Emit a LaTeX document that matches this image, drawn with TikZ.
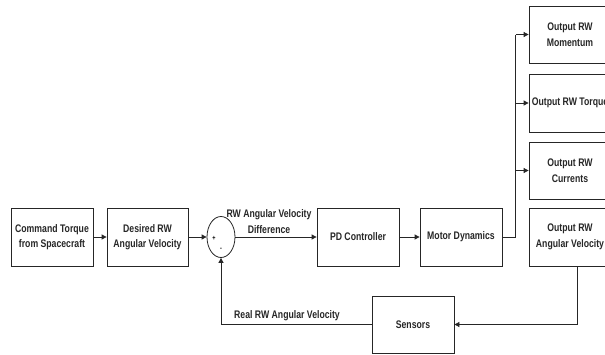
\documentclass[tikz,border=0pt]{standalone}
\usepackage{fontspec}
\setmainfont{Liberation Sans}[FakeStretch=0.79]
\usetikzlibrary{arrows.meta,shapes.geometric}
\begin{document}
\begin{tikzpicture}[x=1pt,y=-1pt,
  txt/.style={font=\fontsize{11}{15.5}\selectfont\bfseries, text=black!85},
  blk/.style={draw=black!85, line width=0.8pt, rectangle, minimum width=82pt, minimum height=58pt, inner sep=1pt, align=center, txt},
  arr/.style={draw=black!85, line width=0.8pt, -{Triangle[length=5pt,width=5pt]}},
  ln/.style={draw=black!85, line width=0.8pt}]
\useasboundingbox (0,0) rectangle (605,354);
\node[blk] (cmd) at (52,237) {Command Torque\\from Spacecraft};
\node[blk, minimum width=81pt] (des) at (147.5,237) {Desired RW\\Angular Velocity};
\node[draw=black!85, line width=0.8pt, ellipse, minimum width=28pt, minimum height=41pt, inner sep=0pt] (sum) at (221,237) {};
\node[font=\fontsize{7}{8}\selectfont\bfseries] (plus) at (214,238) {+};
\node[font=\fontsize{7}{8}\selectfont\bfseries] (minus) at (221,249) {-};
\node[blk] (pd) at (358,237) {PD Controller};
\node[blk] (mot) at (461,237) {Motor Dynamics};
\node[blk] (oav) at (570,237) {Output RW\\Angular Velocity};
\node[blk, minimum height=57pt] (cur) at (570,170.5) {Output RW\\Currents};
\node[blk] (tor) at (570,103) {Output RW Torque};
\node[blk, minimum height=57pt] (mom) at (570,34.5) {Output RW\\Momentum};
\node[blk, minimum height=57pt] (sen) at (413,324.5) {Sensors};
\node[txt, align=center] (difflbl) at (269,221.5) {RW Angular Velocity\\Difference};
\node[txt] (reallbl) at (287,316) {Real RW Angular Velocity};
\coordinate (b0) at (515.5,237);
\coordinate (btop) at (515.5,34.5);
\coordinate (fbtop) at (577,266);
\draw[arr] (cmd) -- (des);
\draw[arr] (des) -- (sum);
\draw[arr] (sum) -- (pd);
\draw[arr] (pd) -- (mot);
\draw[ln] (mot.east) -- (b0) -- (btop);
\draw[arr] (btop) -- (mom);
\draw[arr] (b0 |- tor) -- (tor);
\draw[arr] (b0 |- cur) -- (cur);
\draw[arr] (fbtop) |- (sen.east);
\draw[arr] (sen.west) -| (sum.south);
\end{tikzpicture}
\end{document}
